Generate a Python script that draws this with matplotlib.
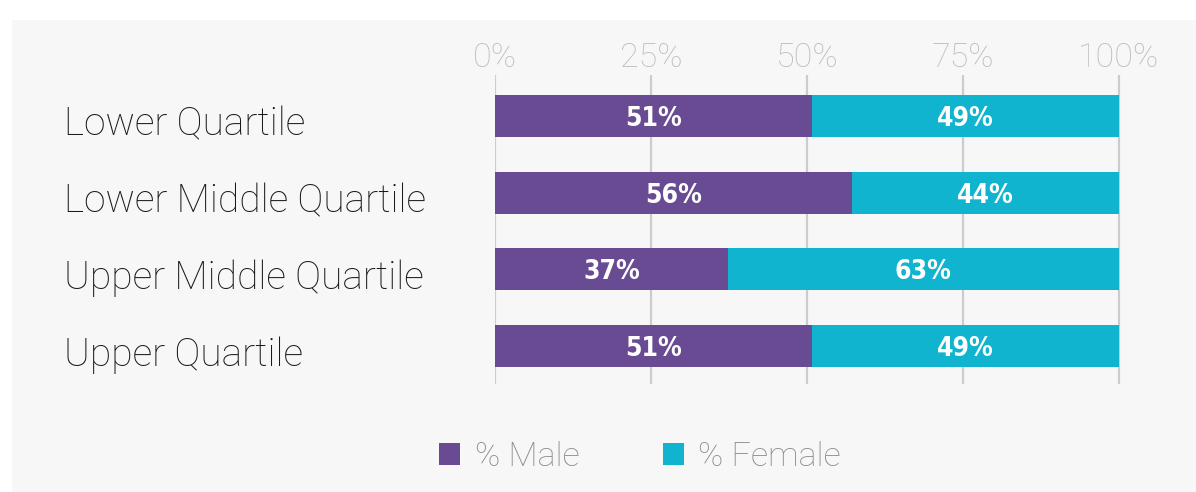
import matplotlib
matplotlib.use("Agg")
import matplotlib.pyplot as plt
from matplotlib.patches import Rectangle
from matplotlib.transforms import ScaledTranslation

categories = ["Lower Quartile", "Lower Middle Quartile", "Upper Middle Quartile", "Upper Quartile"]
male = [50.8, 57.3, 37.4, 50.8]
female = [49.2, 42.7, 62.6, 49.2]
male_labels = ["51%", "56%", "37%", "51%"]
female_labels = ["49%", "44%", "63%", "49%"]
xticks = [0, 25, 50, 75, 100]
xtick_labels = ["0%", "25%", "50%", "75%", "100%"]
series_names = ["% Male", "% Female"]

MALE_C = "#684B92"
FEMALE_C = "#10B4CE"
BG = "#f7f7f7"

W, H = 1196, 492
fig = plt.figure(figsize=(W / 100, H / 100), dpi=100)
fig.patch.set_facecolor("white")
fig.patches.append(Rectangle((12 / W, 0), 1, 1 - 20 / H, transform=fig.transFigure,
                             facecolor=BG, edgecolor="none", zorder=-10))

ax = fig.add_axes([495 / W, 1 - 384 / H, 626 / W, 309 / H])
ax.set_zorder(1)
ax.set_facecolor("none")
ypos = list(range(len(categories)))
bh = 0.548
b1 = ax.barh(ypos, male, height=bh, color=MALE_C, zorder=3, label=series_names[0])
b2 = ax.barh(ypos, female, left=male, height=bh, color=FEMALE_C, zorder=3, label=series_names[1])

label_font = dict(family=["DejaVu Sans"], fontweight="bold", fontstretch="condensed", fontsize=19)
for i in ypos:
    ax.text(male[i] / 2, i, male_labels[i], ha="center", va="center_baseline", color="white",
            zorder=4, **label_font)
    ax.text(male[i] + female[i] / 2, i, female_labels[i], ha="center", va="center_baseline",
            color="white", zorder=4, **label_font)

ax.set_xlim(0, 100.4)
ax.set_ylim(3.495, -0.535)
ax.set_xticks(xticks)
ax.set_xticklabels(xtick_labels, fontsize=24.5, color="#bdbdbd", family=["Roboto", "DejaVu Sans"],
                   fontweight="light")
ax.xaxis.tick_top()
ax.tick_params(axis="x", length=0, pad=0.5)
ax.grid(axis="x", color="#cccccc", linewidth=1.6, zorder=1)
ax.set_axisbelow(True)

ax.set_yticks(ypos)
ax.set_yticklabels(categories, fontsize=28, color="#1a1a1a", family=["Roboto", "DejaVu Sans"],
                   fontweight="light", ha="left", va="center_baseline")
ax.tick_params(axis="y", length=0, pad=(495 - 64) * 0.72)
shift = ScaledTranslation(0, -5 / 100, fig.dpi_scale_trans)
for lbl in ax.get_yticklabels():
    lbl.set_transform(lbl.get_transform() + shift)
for s in ax.spines.values():
    s.set_visible(False)

leg = fig.legend(handles=[b1, b2], labels=series_names, loc="center",
                 bbox_to_anchor=(640 / W, 1 - 457 / H), ncol=2, frameon=False,
                 prop={"family": ["Roboto", "DejaVu Sans"], "size": 24.5, "weight": "light"},
                 handlelength=0.62, handleheight=0.62, handletextpad=0.42, columnspacing=2.45,
                 labelcolor="#8c8c8c")

fig.savefig("out.png", dpi=100, facecolor=fig.get_facecolor())
